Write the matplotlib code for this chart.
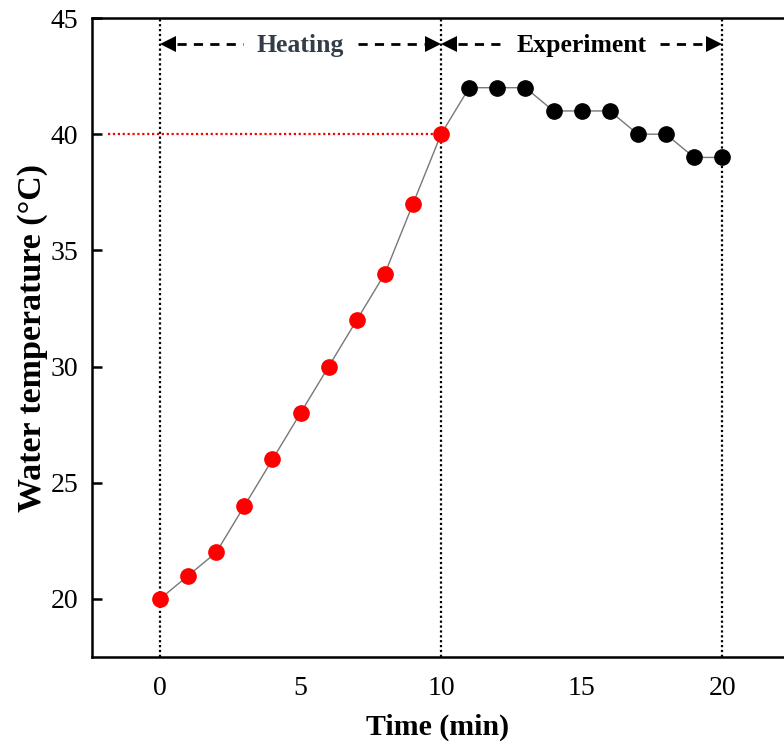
import matplotlib
matplotlib.use("Agg")
import matplotlib.pyplot as plt

# Water temperature readings, one per minute
heat_time = [0, 1, 2, 3, 4, 5, 6, 7, 8, 9, 10]
heat_temp = [20, 21, 22, 24, 26, 28, 30, 32, 34, 37, 40]
exp_time = [11, 12, 13, 14, 15, 16, 17, 18, 19, 20]
exp_temp = [42, 42, 42, 41, 41, 41, 40, 40, 39, 39]
target_temp = 40
phase_bounds = [0, 10, 20]
phase_labels = ["Heating", "Experiment"]
y_ticks = [20, 25, 30, 35, 40, 45]
x_ticks = [0, 5, 10, 15, 20]

plt.rcParams["font.family"] = ["Liberation Serif", "DejaVu Serif"]

fig = plt.figure(figsize=(7.84, 7.51), dpi=100)
ax = fig.add_axes([92 / 784, 1 - 657 / 751, 1 - 92 / 784, (657 - 18) / 751])
ax.set_xlim(-2.42, 22.2)
ax.set_ylim(17.5, 45)

# Phase boundaries
for xb in phase_bounds:
    ax.axvline(xb, color="black", linestyle=(0, (1, 1.2)), lw=1.6, zorder=1)

# Target temperature reference
ax.plot([-1.85, phase_bounds[1]], [target_temp, target_temp], color="red",
        linestyle=(0, (1, 1.2)), lw=1.6, zorder=1)

# Connecting line and markers
all_t = heat_time + exp_time
all_v = heat_temp + exp_temp
ax.plot(all_t, all_v, color="#777777", lw=1.0, zorder=2)
ax.plot(heat_time, heat_temp, "o", color="red", ms=11, mec="red", zorder=3)
ax.plot(exp_time, exp_temp, "o", color="black", ms=11, zorder=3)

# Phase annotations with dashed double arrows
ya = 43.88
def phase_arrow(x0, x1, text_l, text_r, label, color):
    dash = (0, (3.3, 2.6))
    ax.plot([x0 + 0.6, text_l], [ya, ya], color="black", lw=2.0, linestyle=dash)
    ax.plot([text_r, x1 - 0.6], [ya, ya], color="black", lw=2.0, linestyle=dash)
    ax.plot([x0 + 0.28], [ya], marker="<", color="black", ms=11, mew=0)
    ax.plot([x1 - 0.28], [ya], marker=">", color="black", ms=11, mew=0)
    ax.text((x0 + x1) / 2, ya - 0.05, label, ha="center", va="center", fontsize=18.5,
            fontweight="bold", color=color)

phase_arrow(phase_bounds[0], phase_bounds[1], 2.95, 7.05, phase_labels[0], "#333d48")
phase_arrow(phase_bounds[1], phase_bounds[2], 2.2 + 10, 7.8 + 10, phase_labels[1], "black")

# Axes styling
for side in ["left", "bottom", "top"]:
    ax.spines[side].set_linewidth(1.8)
ax.spines["right"].set_visible(False)
ax.set_yticks(y_ticks)
ax.set_xticks(x_ticks)
ax.tick_params(axis="y", direction="in", length=7, width=1.8, labelsize=20, pad=10)
ax.tick_params(axis="x", length=0, labelsize=20, pad=14)
ax.set_ylabel("Water temperature (°C)", fontsize=24.5, fontweight="bold", labelpad=2)
ax.set_xlabel("Time (min)", fontsize=21.5, fontweight="bold", labelpad=9)

fig.savefig("out.png", dpi=100)
